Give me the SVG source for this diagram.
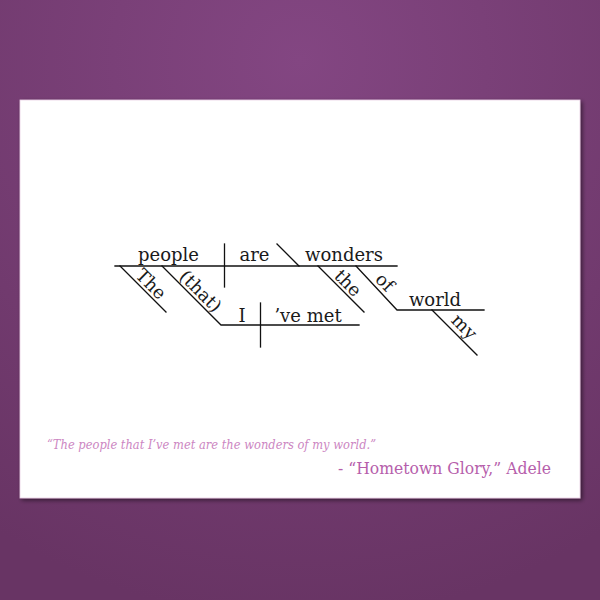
<svg xmlns="http://www.w3.org/2000/svg" width="600" height="600" viewBox="0 0 600 600">
<defs>
<radialGradient id="bg" cx="300" cy="60" r="560" gradientUnits="userSpaceOnUse">
<stop offset="0" stop-color="#834682"/>
<stop offset="1" stop-color="#683464"/>
</radialGradient>
<filter id="sh" x="-10%" y="-10%" width="120%" height="120%">
<feGaussianBlur in="SourceAlpha" stdDeviation="2"/>
<feOffset dx="2" dy="2"/>
<feComponentTransfer><feFuncA type="linear" slope="0.5"/></feComponentTransfer>
<feMerge><feMergeNode/><feMergeNode in="SourceGraphic"/></feMerge>
</filter>
</defs>
<style>
.w{font-family:"DejaVu Serif","Liberation Serif",serif;font-size:18px;fill:#1a1a1a;text-anchor:middle}
.ln{stroke:#111;stroke-width:1.3;fill:none;stroke-linecap:square}
.q{font-family:"DejaVu Serif","Liberation Serif",serif;font-style:italic;font-size:12.5px;fill:#cc86c2}
.a{font-family:"DejaVu Serif","Liberation Serif",serif;font-size:16px;fill:#b65eab}
</style>
<rect width="600" height="600" fill="url(#bg)"/>
<rect x="20" y="100" width="560" height="398" fill="#ffffff" stroke="#e8cfe4" stroke-width="0.8" filter="url(#sh)"/>
<g id="connectors">
<path class="ln" d="M115,266 H397"/>
<path class="ln" d="M224.5,244 V287"/>
<path class="ln" d="M277,244 L299,266"/>
<path class="ln" d="M120,266 L166,312"/>
<path class="ln" d="M162,266 L221,325 H359"/>
<path class="ln" d="M260.5,303 V347"/>
<path class="ln" d="M318,266 L364,312"/>
<path class="ln" d="M356,266 L397,310 H484"/>
<path class="ln" d="M432,310 L477,355"/>
</g>
<g id="people"><text class="w" x="168.5" y="260.5">people</text></g>
<g id="are"><text class="w" x="254.5" y="260.5">are</text></g>
<g id="wonders"><text class="w" x="344" y="260.5">wonders</text></g>
<g id="the1"><text class="w" transform="translate(146.6,288.4) rotate(45)" x="0" y="0">The</text></g>
<g id="that"><text class="w" transform="translate(196.3,295.6) rotate(45)" x="0" y="0">(that)</text></g>
<g id="I"><text class="w" x="242" y="321.7">I</text></g>
<g id="vemet"><text class="w" x="308" y="321.7">’ve met</text></g>
<g id="the2"><text class="w" transform="translate(343.6,287.4) rotate(45)" x="0" y="0">the</text></g>
<g id="of"><text class="w" transform="translate(380.5,286.5) rotate(45)" x="0" y="0">of</text></g>
<g id="world"><text class="w" x="435" y="306">world</text></g>
<g id="my"><text class="w" transform="translate(460,331) rotate(45)" x="0" y="0">my</text></g>
<text class="q" x="47" y="449" textLength="329" lengthAdjust="spacingAndGlyphs">“The people that I’ve met are the wonders of my world.”</text>
<text class="a" x="338" y="474" textLength="213" lengthAdjust="spacingAndGlyphs">- “Hometown Glory,” Adele</text>
</svg>
